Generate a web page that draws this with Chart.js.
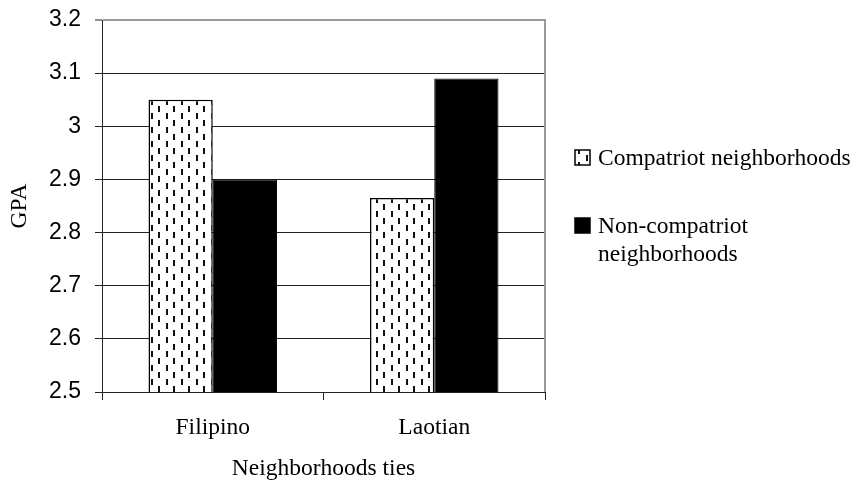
<!DOCTYPE html>
<html>
<head>
<meta charset="utf-8">
<script src="https://cdn.jsdelivr.net/npm/chart.js@4/dist/chart.umd.min.js"></script>
<style>
  html, body { margin: 0; padding: 0; background: #fff; }
  #wrap { width: 857px; height: 484px; }
</style>
</head>
<body>
<div id="wrap"><canvas id="gpa" width="857" height="484"></canvas></div>
<script>
// GPA by neighborhood ties
const categories = ['Filipino', 'Laotian'];
const seriesNames = ['Compatriot neighborhoods', 'Non-compatriot neighborhoods'];
const compatriot = [3.05, 2.865];
const nonCompatriot = [2.90, 3.09];
const yMin = 2.5, yMax = 3.2, yStep = 0.1;
const xTitle = 'Neighborhoods ties';
const yTitle = 'GPA';

const SERIF = '"Liberation Serif", "Times New Roman", serif';
const SANS = '"Liberation Sans", Arial, sans-serif';
const SERIF_SIZE = 23.5;
const SANS_SIZE = 23;

// Staggered vertical-dash fill used for the compatriot bars
function dashPattern() {
  const c = document.createElement('canvas');
  c.width = 15; c.height = 14;
  const g = c.getContext('2d');
  g.fillStyle = '#fff';
  g.fillRect(0, 0, 15, 14);
  g.fillStyle = '#111';
  g.fillRect(1, 1, 2, 6);
  g.fillRect(8, 8, 2, 6);
  return g.createPattern(c, 'repeat');
}
const dashes = dashPattern();

// Legend drawn at the right of the plot, wrapping long labels
const sideLegend = {
  id: 'sideLegend',
  afterDraw(chart) {
    const ctx = chart.ctx;
    const area = chart.chartArea;
    const boxX = area.right + 30;
    const textX = boxX + 23;
    const maxW = chart.width - textX - 1;
    const lineH = 27.5;
    let baseline = 165;
    ctx.save();
    ctx.font = SERIF_SIZE + 'px ' + SERIF;
    ctx.textAlign = 'left';
    ctx.textBaseline = 'alphabetic';
    chart.data.datasets.forEach((ds) => {
      ctx.fillStyle = ds.backgroundColor;
      ctx.fillRect(boxX, baseline - 15, 15, 15);
      ctx.strokeStyle = '#000';
      ctx.lineWidth = 1.5;
      ctx.strokeRect(boxX, baseline - 15, 15, 15);
      const words = ds.label.split(' ');
      const lines = [];
      let cur = '';
      words.forEach(w => {
        const t = cur ? cur + ' ' + w : w;
        if (cur && ctx.measureText(t).width > maxW) { lines.push(cur); cur = w; }
        else cur = t;
      });
      if (cur) lines.push(cur);
      ctx.fillStyle = '#000';
      lines.forEach((ln, k) => ctx.fillText(ln, textX, baseline + k * lineH));
      baseline += (lines.length - 1) * lineH + 68;
    });
    ctx.restore();
  }
};

// Gray frame on the right edge of the plot area
const rightFrame = {
  id: 'rightFrame',
  afterDatasetsDraw(chart) {
    const ctx = chart.ctx;
    const a = chart.chartArea;
    ctx.save();
    ctx.strokeStyle = '#9a9a9a';
    ctx.lineWidth = 2;
    ctx.beginPath();
    ctx.moveTo(a.right, a.top - 1);
    ctx.lineTo(a.right, a.bottom);
    ctx.stroke();
    ctx.restore();
  }
};

new Chart(document.getElementById('gpa'), {
  type: 'bar',
  data: {
    labels: categories,
    datasets: [
      {
        label: seriesNames[0],
        data: compatriot,
        backgroundColor: dashes,
        borderColor: '#000',
        borderWidth: 1.5,
        borderSkipped: false
      },
      {
        label: seriesNames[1],
        data: nonCompatriot,
        backgroundColor: '#000',
        borderColor: '#000',
        borderWidth: 1,
        borderSkipped: false
      }
    ]
  },
  options: {
    responsive: false,
    animation: false,
    devicePixelRatio: 1,
    layout: { padding: { top: 20, right: 312, left: 0, bottom: 0 } },
    datasets: { bar: { categoryPercentage: 0.58, barPercentage: 1.0 } },
    plugins: {
      legend: { display: false },
      tooltip: { enabled: false }
    },
    scales: {
      x: {
        afterFit(s) { s.height = 92; },
        grid: {
          offset: true,
          drawOnChartArea: false,
          drawTicks: true,
          tickLength: 8,
          tickColor: '#222',
          lineWidth: 1
        },
        border: { color: '#222', width: 1 },
        ticks: {
          color: '#000',
          padding: 14,
          font: { family: SERIF, size: SERIF_SIZE }
        },
        title: {
          display: true,
          text: xTitle,
          color: '#000',
          font: { family: SERIF, size: SERIF_SIZE },
          padding: { top: 4, bottom: 1 }
        }
      },
      y: {
        min: yMin,
        max: yMax,
        afterFit(s) { s.width = 102; s.paddingTop = 0; s.paddingBottom = 0; },
        ticks: {
          stepSize: yStep,
          color: '#000',
          padding: 14,
          font: { family: SANS, size: SANS_SIZE },
          callback: v => String(+Number(v).toFixed(1))
        },
        grid: {
          color: c => (c.tick && Math.abs(c.tick.value - yMax) < 1e-6) ? '#9a9a9a' : '#222',
          lineWidth: c => (c.tick && Math.abs(c.tick.value - yMax) < 1e-6) ? 2 : 1,
          tickColor: '#222',
          tickLength: 7,
          tickWidth: 1
        },
        border: { color: '#222', width: 1 },
        title: {
          display: true,
          text: yTitle,
          color: '#000',
          font: { family: SERIF, size: SERIF_SIZE },
          padding: { top: 6, bottom: 0 }
        }
      }
    }
  },
  plugins: [sideLegend, rightFrame]
});
</script>
</body>
</html>
